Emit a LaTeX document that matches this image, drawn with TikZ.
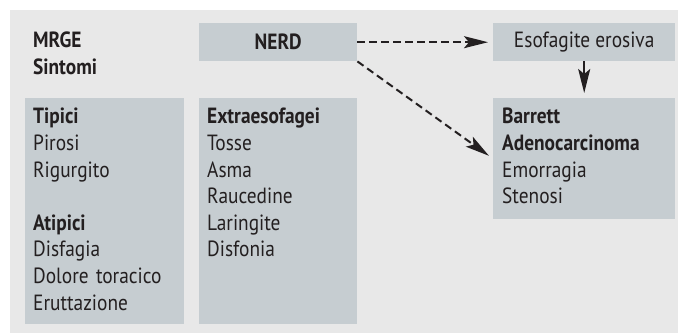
\documentclass[tikz,border=0pt]{standalone}
\usepackage{fontspec}
\setmainfont[FakeStretch=0.88]{PT Sans}
\usetikzlibrary{arrows.meta, positioning}
\definecolor{my_bg}{RGB}{232, 232, 232}
\definecolor{my_box}{RGB}{198, 205, 209}
\definecolor{my_text}{RGB}{35, 31, 32}
\tikzset {
  panel/.style = {fill=my_bg, draw=none},
  box/.style = {fill=my_box, draw=none, inner sep=0pt, anchor=north west, text=my_text},
  list/.style = {inner sep=0pt, anchor=base west, align=left, text width=150pt, text=my_text},
  line/.style = {-{Stealth[length=24pt, width=12pt, inset=5pt]}, line width=2pt, color=my_text, shorten >=5pt},
  dline/.style = {line, dash pattern=on 7.5pt off 4.5pt},
}
\newcommand{\txt}{\fontsize{22}{26.6}\selectfont}

\begin{document}
\begin{tikzpicture}[x=1pt, y=-1pt, font=\txt]
    \useasboundingbox (0,0) rectangle (678,334);
    \fill[panel] (10,10) rectangle (678,333);

    % top row
    \node[list] (mrge) at (33,48) {\textbf{MRGE}\\\textbf{Sintomi}};
    \node[box, minimum width=158pt, minimum height=38pt] (nerd) at (199,23) {\textbf{NERD}};
    \node[box, minimum width=182pt, minimum height=38pt] (esof) at (493,23) {Esofagite erosiva};

    % lower boxes
    \node[box, minimum width=159pt, minimum height=226pt] (tipici) at (25,98) {};
    \node[box, minimum width=158pt, minimum height=226pt] (extra) at (199,98) {};
    \node[box, minimum width=182pt, minimum height=121pt] (barrett) at (493,98) {};

    \node[list] (tipicitxt) at (33,124) {\textbf{Tipici}\\Pirosi\\Rigurgito\\[26.6pt]\textbf{Atipici}\\Disfagia\\Dolore toracico\\Eruttazione};
    \node[list] (extratxt) at (207,124) {\textbf{Extraesofagei}\\Tosse\\Asma\\Raucedine\\Laringite\\Disfonia};
    \node[list] (barretttxt) at (502,124) {\textbf{Barrett}\\\textbf{Adenocarcinoma}\\Emorragia\\Stenosi};

    \draw[dline] (nerd.east) -- (esof.west);
    \draw[dline] (nerd.south east) -- (barrett.west);
    \draw[line] (esof.south) -- (barrett.north);
\end{tikzpicture}
\end{document}
